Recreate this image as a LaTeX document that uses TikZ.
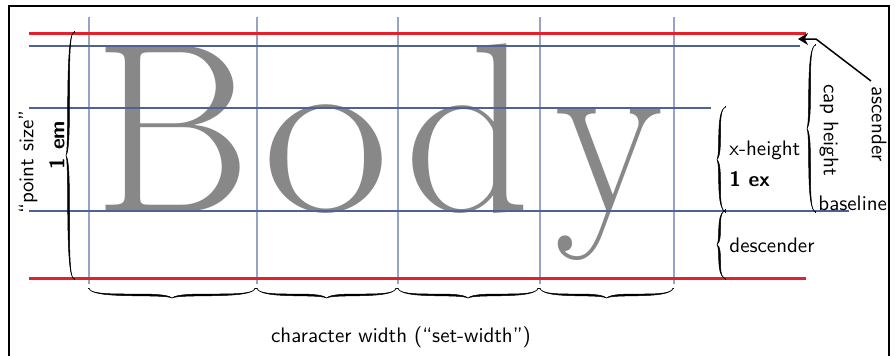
\documentclass[tikz,border=0pt]{standalone}
\usepackage{fontspec}
\usetikzlibrary{arrows.meta}
\definecolor{gridblue}{RGB}{78,98,150}
\definecolor{gridlight}{RGB}{150,164,200}
\definecolor{linered}{RGB}{228,32,44}
\definecolor{glyphgray}{RGB}{136,136,136}
% calligraphic brace: #1,#2 start point (px), #3 rotation, #4 length (px), #5 amplitude (px)
\newcommand\calbrace[5]{%
  \begin{scope}[shift={(#1,#2)}, rotate=#3]
    \pgfmathsetmacro\brA{min(0.07*#4,9)}
    \filldraw[cbrace] (0,0) .. controls (\brA,#5) and ({#4/2-\brA},0) .. ({#4/2},#5)
      .. controls ({#4/2+\brA},0) and (#4-\brA,#5) .. (#4,0)
      .. controls ({#4-\brA},{#5+1}) and ({#4/2+\brA},3.6) .. ({#4/2},#5)
      .. controls ({#4/2-\brA},3.6) and (\brA,{#5+1}) .. (0,0) -- cycle;
    \draw[cbrace, line width=0.4pt] (0,0) .. controls (-0.3,-1.2) and (-0.8,-1.8) .. (-1.8,-1.6);
    \draw[cbrace, line width=0.4pt] (#4,0) .. controls ({#4+0.3},-1.2) and ({#4+0.8},-1.8) .. ({#4+1.8},-1.6);
  \end{scope}}
\begin{document}
\begin{tikzpicture}[x=0.5pt,y=-0.5pt,
  hblue/.style={gridblue, line width=0.55pt},
  vblue/.style={gridlight, line width=0.6pt},
  redline/.style={linered, line width=1.5pt},
  cbrace/.style={black, line width=0.25pt},
  lbl/.style={font=\sffamily\fontsize{10.5pt}{12pt}\selectfont, inner sep=0pt},
  glyph/.style={font=\fontsize{120.8pt}{120.8pt}\selectfont\addfontfeatures{FakeBold=1.5}, text=glyphgray, inner sep=0pt, anchor=base}]
\useasboundingbox (0,0) rectangle (895,355);
% frame
\draw[line width=1.4pt] (9,356) -- (9,6) -- (889,6) -- (889,356);
% glyphs
\node[glyph] (B) at (173,211) {B};
\node[glyph, xscale=1.15] (o) at (326,211) {o};
\node[glyph, xscale=1.03] (d) at (468,211) {d};
\node[glyph, xscale=0.92] (y) at (609,211) {y};
% vertical grid
\foreach \x in {89,257,398,540,674} \draw[vblue] (\x,17) -- (\x,284);
% horizontal lines
\draw[hblue] (29,46) -- (800,46);
\draw[hblue] (29,108) -- (711,108);
\draw[hblue] (29,211) -- (849,211);
\draw[redline] (29,33) -- (806,33);
\draw[redline] (29,278) -- (806,278);
% left brace
\calbrace{73}{33}{-90}{245}{7}
\node[lbl, font=\sffamily\bfseries\fontsize{10.5pt}{12pt}\selectfont, rotate=90] (em) at (57,145) {1 em};
\node[lbl, rotate=90] (ps) at (28,162) {“point size”};
% right braces
\calbrace{724}{108}{-90}{103}{7}
\calbrace{724}{211}{-90}{67}{7}
\calbrace{814}{46}{-90}{165}{7}
\node[lbl, anchor=base west] (xh) at (729,155) {x-height};
\node[lbl, font=\sffamily\bfseries\fontsize{10.5pt}{12pt}\selectfont, anchor=base west] (ex) at (729,186) {1 ex};
\node[lbl, anchor=base west] (desc) at (729,252) {descender};
\node[lbl, anchor=base west] (bl) at (818,210) {baseline};
\node[lbl, rotate=-90] (cap) at (829,130) {cap height};
\node[lbl, rotate=-90] (asc) at (879,124) {ascender};
% ascender arrow
\coordinate (ascFrom) at (871,81);
\coordinate (ascBend) at (816,39);
\coordinate (ascTip) at (798,39);
\draw[line width=0.75pt, -{Stealth[length=5pt,width=6pt]}] (ascFrom) -- (ascBend) -- (ascTip);
% bottom braces
\calbrace{90}{290}{0}{164}{8}
\calbrace{258}{290}{0}{137}{8}
\calbrace{399}{290}{0}{138}{8}
\calbrace{541}{290}{0}{131}{8}
\node[lbl, anchor=base] (cw) at (401,342) {character width (“set-width”)};
\end{tikzpicture}
\end{document}
